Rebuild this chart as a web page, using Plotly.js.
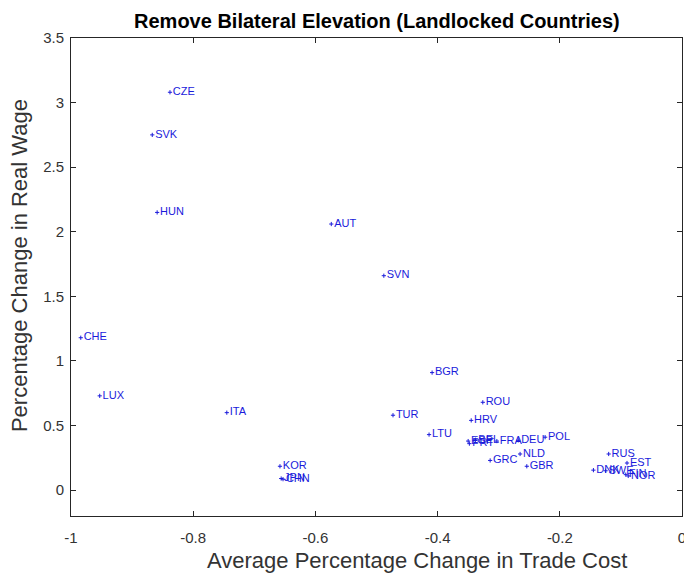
<!DOCTYPE html>
<html>
<head>
<meta charset="utf-8">
<script src="https://cdn.plot.ly/plotly-3.0.1.min.js"></script>
<style>
  html, body { margin: 0; padding: 0; background: #fff; }
  #chart { width: 684px; height: 573px; }
</style>
</head>
<body>
<div id="chart"></div>
<script>
// Country codes and their outcomes
const countries = ["CZE", "SVK", "HUN", "AUT", "SVN", "CHE", "LUX", "ITA", "BGR", "ROU",
                   "TUR", "HRV", "LTU", "PRT", "ESP", "BEL", "FRA", "DEU", "POL", "NLD",
                   "GRC", "GBR", "RUS", "EST", "DNK", "SWE", "FIN", "NOR", "KOR", "JPN", "CHN"];
// Average percentage change in trade cost
const tradeCost = [-0.838, -0.867, -0.859, -0.574, -0.488, -0.984, -0.953, -0.745, -0.409, -0.326,
                   -0.473, -0.345, -0.414, -0.348, -0.350, -0.338, -0.303, -0.268, -0.224, -0.265,
                   -0.314, -0.254, -0.120, -0.090, -0.145, -0.125, -0.092, -0.088, -0.658, -0.656, -0.653];
// Percentage change in real wage
const realWage = [3.08, 2.75, 2.15, 2.06, 1.66, 1.18, 0.73, 0.60, 0.91, 0.68,
                  0.58, 0.54, 0.43, 0.36, 0.38, 0.39, 0.38, 0.386, 0.41, 0.28,
                  0.23, 0.185, 0.28, 0.21, 0.155, 0.15, 0.12, 0.11, 0.185, 0.09, 0.085];

const xTicks = [-1, -0.8, -0.6, -0.4, -0.2, 0];
const xTickText = ["-1", "-0.8", "-0.6", "-0.4", "-0.2", "0"];
const yTicks = [0, 0.5, 1, 1.5, 2, 2.5, 3, 3.5];
const yTickText = ["0", "0.5", "1", "1.5", "2", "2.5", "3", "3.5"];

const blue = "#1a1adb";
const axisColor = "#262626";
const font = "Liberation Sans, Arial, sans-serif";

const trace = {
  type: "scatter",
  mode: "markers+text",
  x: tradeCost,
  y: realWage,
  text: countries,
  textposition: "middle right",
  textfont: { family: font, size: 11, color: blue },
  marker: { symbol: "cross-thin-open", size: 3, line: { color: blue, width: 1 }, color: blue },
  cliponaxis: false,
  hoverinfo: "none"
};

const axisCommon = {
  showgrid: false,
  zeroline: false,
  showline: true,
  linecolor: axisColor,
  linewidth: 1,
  mirror: "ticks",
  ticks: "inside",
  ticklen: 5,
  tickcolor: axisColor,
  ticklabeloverflow: "allow",
  tickfont: { family: font, size: 15, color: "#333333" },
  fixedrange: true
};

const layout = {
  width: 684,
  height: 573,
  margin: { l: 71, r: 2, t: 38, b: 57 },
  paper_bgcolor: "#ffffff",
  plot_bgcolor: "#ffffff",
  showlegend: false,
  title: {
    text: "<b>Remove Bilateral Elevation (Landlocked Countries)</b>",
    font: { family: font, size: 20, color: "#000" },
    x: 0.551, xanchor: "center",
    y: 0.963, yanchor: "middle"
  },
  xaxis: Object.assign({}, axisCommon, {
    range: [-1, 0],
    tickmode: "array",
    tickvals: xTicks,
    ticktext: xTickText,
    ticklabelstandoff: 8
  }),
  yaxis: Object.assign({}, axisCommon, {
    range: [-0.2, 3.5],
    tickmode: "array",
    tickvals: yTicks,
    ticktext: yTickText,
    ticklabelstandoff: 3
  }),
  // axis labels
  annotations: [
    {
      text: "Average Percentage Change in Trade Cost",
      xref: "paper", yref: "paper",
      x: 0.566, y: -0.094, xanchor: "center", yanchor: "middle",
      showarrow: false,
      font: { family: font, size: 22, color: "#333333" }
    },
    {
      text: "Percentage Change in Real Wage",
      xref: "paper", yref: "paper",
      x: -0.085, y: 0.523, xanchor: "center", yanchor: "middle",
      textangle: -90,
      showarrow: false,
      font: { family: font, size: 22, color: "#333333" }
    }
  ]
};

Plotly.newPlot("chart", [trace], layout, { displayModeBar: false, staticPlot: true });
</script>
</body>
</html>
